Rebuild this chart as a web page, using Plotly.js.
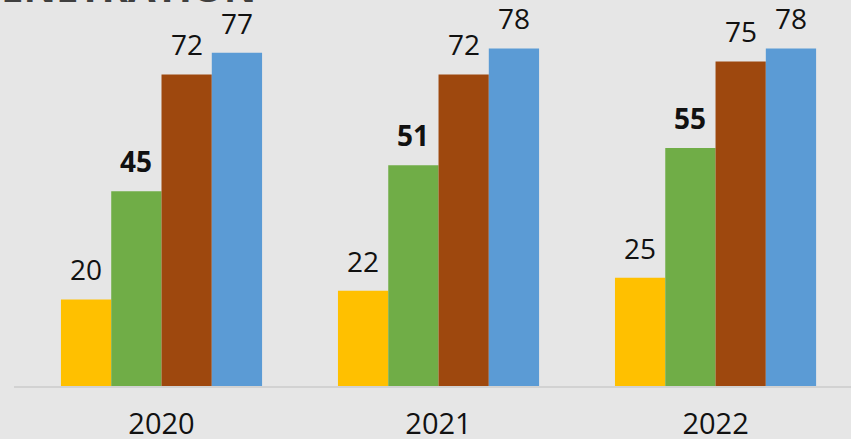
<!DOCTYPE html>
<html><head><meta charset="utf-8">
<script src="https://cdn.plot.ly/plotly-3.0.1.min.js"></script>
<style>html,body{margin:0;padding:0;background:#e6e6e6;}#chart{width:851px;height:439px;}</style>
</head><body><div id="chart"></div>
<script>
const years = ["2020", "2021", "2022"];
const seriesA = [20, 22, 25];
const seriesB = [45, 51, 55];
const seriesC = [72, 72, 75];
const seriesD = [77, 78, 78];
const colors = ["#FFC000", "#70AD47", "#9E480E", "#5B9BD5"];
const boldLabels = [false, true, false, false];
const titleText = "PENETRATION";

const allSeries = [seriesA, seriesB, seriesC, seriesD];
const lblFont = "Open Sans, DejaVu Sans, sans-serif";
const bargap = 0.274;
const barW = (1 - bargap) / allSeries.length;

const data = allSeries.map((vals, i) => ({
  type: "bar", x: years, y: vals,
  marker: {color: colors[i]},
  hoverinfo: "none"
}));

const annotations = [];
allSeries.forEach((vals, i) => {
  vals.forEach((v, j) => {
    annotations.push({
      xref: "x", yref: "y",
      x: j + (i - (allSeries.length - 1) / 2) * barW,
      y: v, yanchor: "bottom", xanchor: "center", yshift: 10,
      text: boldLabels[i] ? "<b>" + v + "</b>" : String(v),
      showarrow: false, borderpad: 0,
      font: {family: lblFont, size: 28, color: "#111"}
    });
  });
});
annotations.push({
  text: "<b>" + titleText + "</b>", xref: "paper", yref: "paper",
  x: (258 - 14) / 837, xanchor: "right", y: 1, yanchor: "middle", yshift: 14,
  showarrow: false,
  font: {family: "Open Sans, DejaVu Sans, sans-serif", size: 40, color: "#3f3f3f"}
});

const layout = {
  width: 851, height: 439,
  margin: {l: 14, r: 0, t: 0, b: 53},
  paper_bgcolor: "#e6e6e6", plot_bgcolor: "#e6e6e6",
  barmode: "group", bargap: bargap, bargroupgap: 0,
  showlegend: false,
  xaxis: {
    type: "category", range: [-0.5325, 2.489],
    showline: true, linecolor: "#d2d2d2", linewidth: 1.5,
    ticks: "", ticklabelstandoff: 12,
    tickfont: {family: lblFont, size: 29, color: "#111"},
    showgrid: false, zeroline: false, fixedrange: true
  },
  yaxis: {
    range: [0, 89.2], visible: false, showgrid: false, zeroline: false, fixedrange: true
  },
  annotations: annotations
};
Plotly.newPlot("chart", data, layout, {staticPlot: true, displayModeBar: false});
</script></body></html>
